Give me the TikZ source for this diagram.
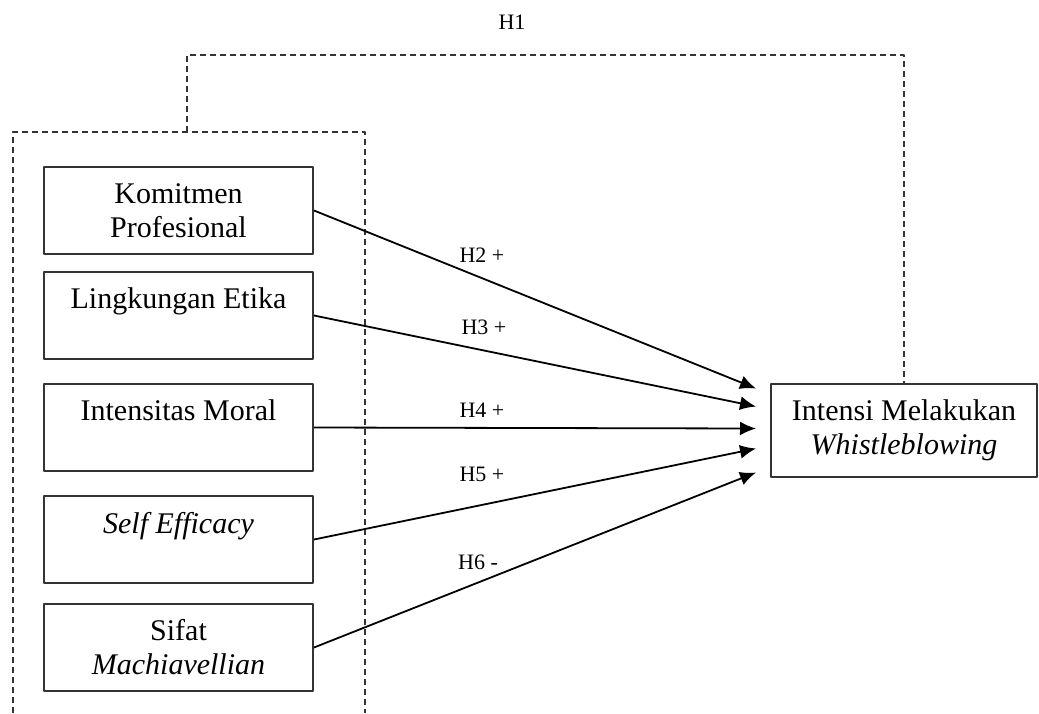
\documentclass[tikz,border=0pt]{standalone}
\usepackage{fontspec}
\setmainfont{Liberation Serif}
\usetikzlibrary{arrows.meta,positioning}
\definecolor{tttttt}{rgb}{0.2,0.2,0.2}
\definecolor{wwwwww}{rgb}{0.4,0.4,0.4}
\tikzset{
  varbox/.style={draw=tttttt,line width=1pt,minimum width=134.5pt,minimum height=43.5pt,align=center,inner sep=0pt,font=\fontsize{15}{17}\selectfont},
  hyparrow/.style={line width=0.9pt,-{Latex[length=8pt,width=7pt]}},
  frameline/.style={dash pattern=on 3pt off 2pt,line width=0.8pt,color=tttttt},
  hlabel/.style={font=\fontsize{11}{13}\selectfont}
}

\begin{document}
\begin{tikzpicture}[line join=round,x=0.5pt,y=-0.5pt]
      \useasboundingbox (0,0) rectangle (1039,713);
      % variabel independen
      \node[varbox] (kp) at (178.5,210.5) {Komitmen\\Profesional};
      \node[varbox,below=8pt of kp] (le) {Lingkungan Etika\\\mbox{}};
      \node[varbox,below=11.5pt of le] (im) {Intensitas Moral\\\mbox{}};
      \node[varbox,below=11.5pt of im] (se) {\textit{Self Efficacy}\\\mbox{}};
      \node[varbox,below=9.5pt of se] (sm) {Sifat\\\textit{Machiavellian}};
      % variabel dependen
      \node[varbox,minimum width=133pt,minimum height=46.5pt] (tgt) at (904,430.5) {Intensi Melakukan\\\textit{Whistleblowing}};
      % kotak putus-putus
      \draw[frameline] (13,713) -- (13,132) -- (365,132) -- (365,713);
      \coordinate (ftop) at (187,132);
      \coordinate (h1turn) at (187,55);
      \draw[frameline] (ftop) -- (h1turn) -| (tgt.north);
      \node[hlabel] (h1) at (512,22) {H1};
      \foreach \src/\dy in {kp/21,le/12,im/1,se/-9,sm/-21}
      \draw[hyparrow] (\src.east) -- ([xshift=-7pt,yshift=\dy pt]tgt.west);
      \foreach \n/\x/\y/\t in {h2/482/255/{H2 +},h3/484/327/{H3 +},h4/482/410/{H4 +},h5/482/474/{H5 +},h6/478/562/{H6 -}}
      \node[hlabel] (\n) at (\x,\y) {\t};
    \end{tikzpicture}
\end{document}
